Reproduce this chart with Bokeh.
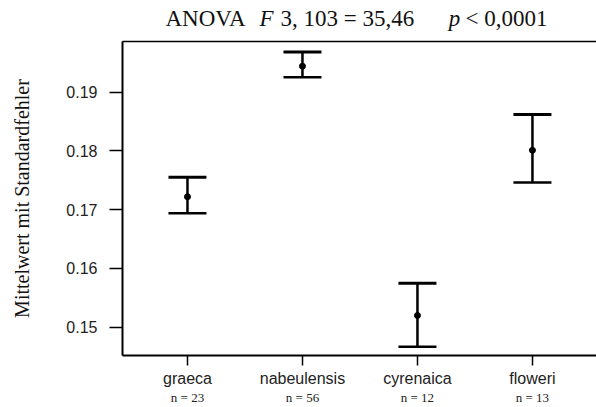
from bokeh.plotting import figure
from bokeh.models import (ColumnDataSource, Whisker, TeeHead, FixedTicker,
                          LinearAxis, Range1d)
from bokeh.embed import file_html
from bokeh.resources import INLINE

# ---- data ----
species = ["graeca", "nabeulensis", "cyrenaica", "floweri"]
n_counts = [23, 56, 12, 13]
means = [0.1722, 0.1944, 0.1520, 0.1801]
lower = [0.1694, 0.1925, 0.1467, 0.1746]
upper = [0.1755, 0.1968, 0.1575, 0.1862]
y_ticks = [0.15, 0.16, 0.17, 0.18, 0.19]
title_plain = ["ANOVA", "3, 103 = 35,46", "< 0,0001"]
title_italic = ["F", "p"]
y_label = "Mittelwert mit Standardfehler"

# ---- layout helpers (horizontal anchor of each title piece) ----
title_plain_at = [1.157, 2.390, 3.774]
title_italic_at = [1.687, 3.322]

xpos = list(range(1, len(species) + 1))
src = ColumnDataSource(dict(x=xpos, mean=means, lower=lower, upper=upper))

SERIF = "Liberation Serif"
SANS = "Liberation Sans"


def bare(axis):
    axis.major_tick_in = 0
    axis.minor_tick_out = 0
    axis.minor_tick_in = 0


p = figure(width=596, height=407, output_backend="svg", toolbar_location=None,
           x_range=Range1d(0.435, 4.557), y_range=Range1d(0.1452, 0.1986),
           min_border_left=122, min_border_right=0, min_border_top=41,
           min_border_bottom=52)
p.outline_line_color = None
p.grid.visible = False
p.background_fill_color = "white"

# bottom axis with species names
xa = p.xaxis[0]
bare(xa)
xa.ticker = FixedTicker(ticks=xpos)
xa.major_label_overrides = {x: s for x, s in zip(xpos, species)}
xa.major_label_text_font = SANS
xa.major_label_text_font_size = "16px"
xa.major_label_text_color = "#222222"
xa.major_label_standoff = 4
xa.major_tick_out = 10
xa.axis_line_width = 2
xa.major_tick_line_width = 1.5
xa.axis_line_color = "black"

# second bottom axis carrying the group sizes
na = LinearAxis(ticker=FixedTicker(ticks=xpos),
                major_label_overrides={x: f"n = {n}" for x, n in zip(xpos, n_counts)},
                major_label_text_font=SERIF, major_label_text_font_size="13px",
                major_label_text_color="#222222", major_label_standoff=0,
                axis_line_color=None, major_tick_line_color=None,
                major_tick_out=0)
bare(na)
p.add_layout(na, "below")

# left axis
ya = p.yaxis[0]
bare(ya)
ya.ticker = FixedTicker(ticks=y_ticks)
ya.major_label_text_font = SANS
ya.major_label_text_font_size = "16px"
ya.major_label_text_color = "#222222"
ya.major_tick_out = 13
ya.major_label_standoff = 12
ya.axis_line_width = 2
ya.major_tick_line_width = 1.5
ya.axis_line_color = "black"
ya.axis_label = y_label
ya.axis_label_text_font = SERIF
ya.axis_label_text_font_size = "20px"
ya.axis_label_text_font_style = "normal"
ya.axis_label_text_color = "#111111"
ya.axis_label_standoff = 30

# top frame line, carrying the upright parts of the title
top = LinearAxis(ticker=FixedTicker(ticks=title_plain_at),
                 major_label_overrides=dict(zip(title_plain_at, title_plain)),
                 major_label_text_font=SERIF, major_label_text_font_size="23px",
                 major_label_text_color="#111111", major_label_standoff=11,
                 major_tick_line_color=None, major_tick_out=0,
                 axis_line_width=1.5)
bare(top)
p.add_layout(top, "above")

# italic parts of the title (F, p) on the same line
top2 = LinearAxis(ticker=FixedTicker(ticks=title_italic_at),
                  major_label_overrides=dict(zip(title_italic_at, title_italic)),
                  major_label_text_font=SERIF, major_label_text_font_size="23px",
                  major_label_text_font_style="italic",
                  major_label_text_color="#111111", major_label_standoff=-28,
                  major_tick_line_color=None, major_tick_out=0,
                  axis_line_color=None)
bare(top2)
p.add_layout(top2, "above")

# error bars
w = Whisker(source=src, base="x", upper="upper", lower="lower",
            line_width=2.5, line_color="black",
            upper_head=TeeHead(size=38, line_width=3, line_color="black"),
            lower_head=TeeHead(size=38, line_width=2.5, line_color="black"))
p.add_layout(w)
p.scatter("x", "mean", source=src, size=6, color="black")

open("out.html", "w").write(file_html(p, INLINE))
